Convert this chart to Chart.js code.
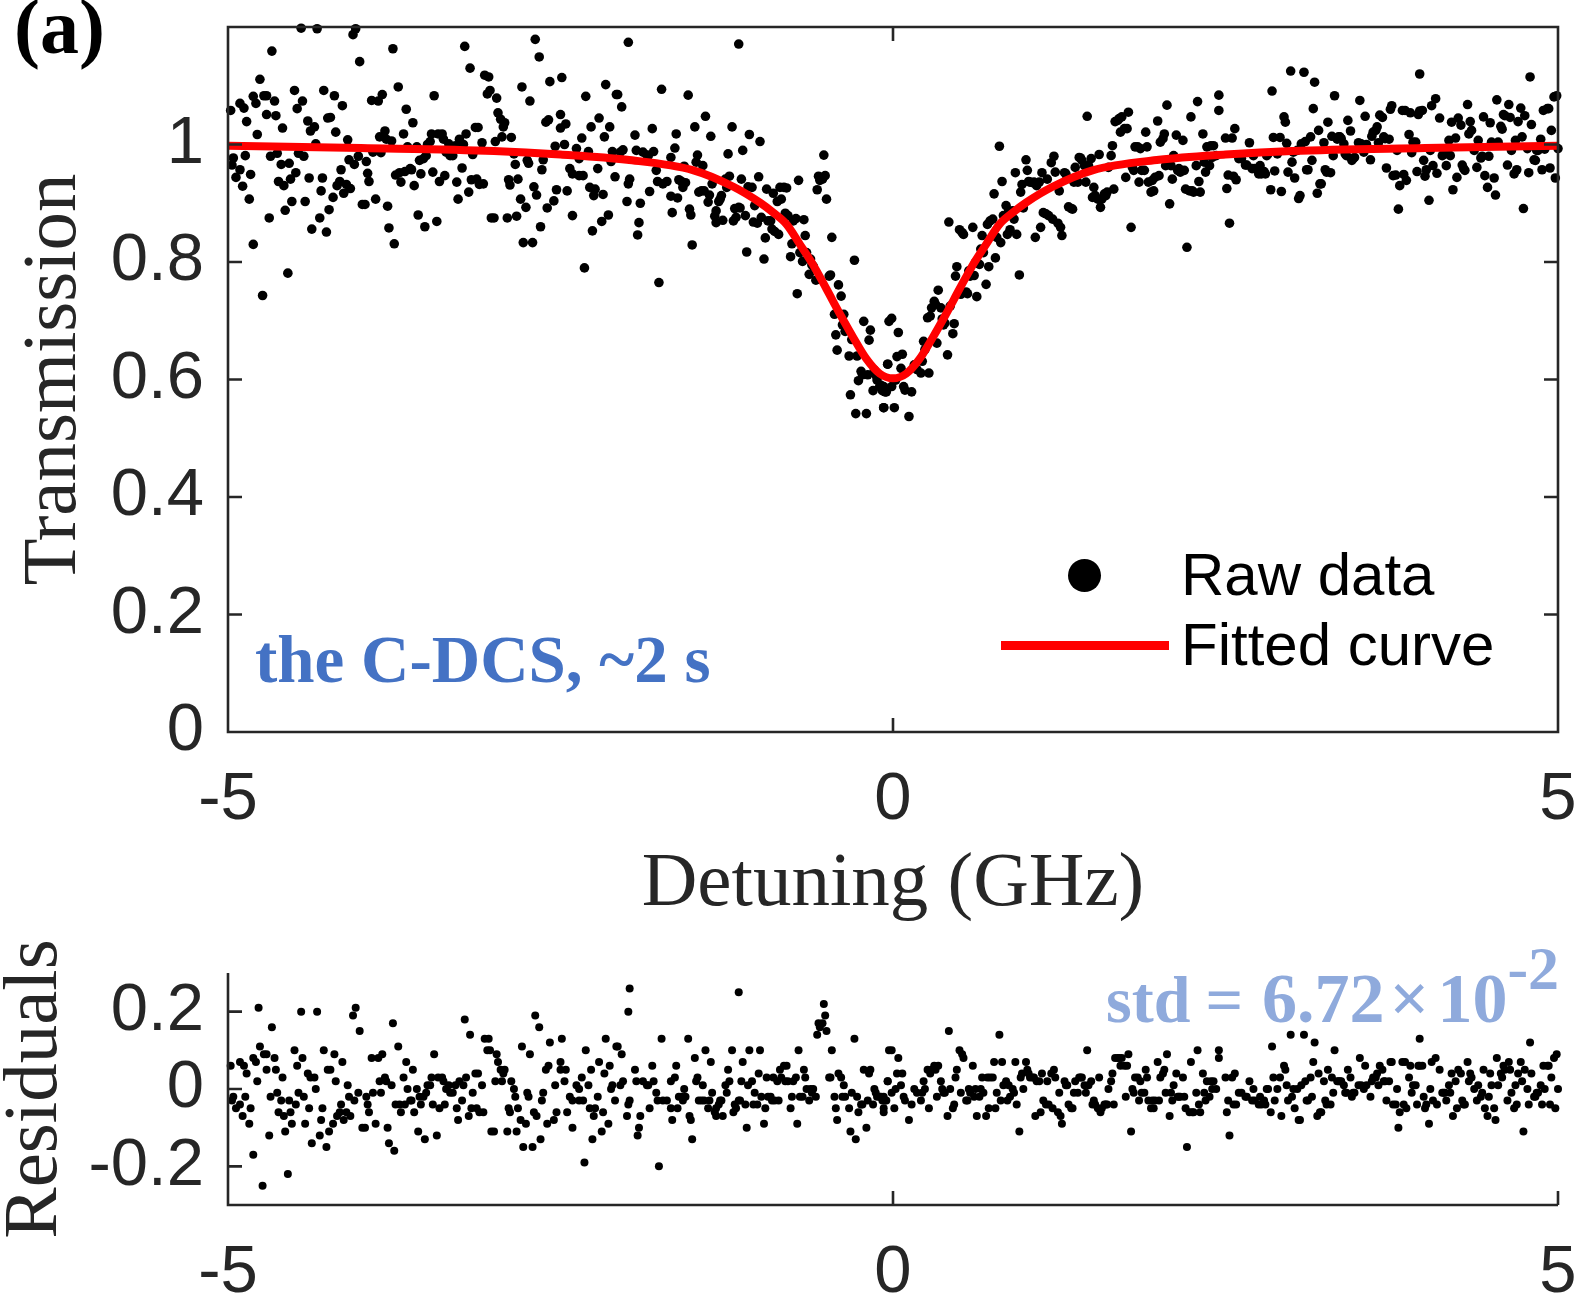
<!DOCTYPE html>
<html>
<head>
<meta charset="utf-8">
<title>Transmission dip and residuals</title>
<script src="https://cdn.jsdelivr.net/npm/chart.js@4.4.1/dist/chart.umd.min.js"></script>
<style>
  html, body { margin: 0; padding: 0; background: #fff; }
  #wrap { position: relative; width: 1578px; height: 1298px; overflow: hidden; background: #fff; }
  #wrap canvas { position: absolute; left: 0; top: 0; }
  .note { position: absolute; white-space: nowrap; line-height: 1; font-weight: bold;
          font-family: "Liberation Serif", "Times New Roman", serif; }
  .leg { position: absolute; white-space: nowrap; line-height: 1; font-size: 60px; color: #000;
         font-family: "Liberation Sans", Arial, sans-serif; }
</style>
</head>
<body>
<div id="wrap">
  <canvas id="transChart" width="1578" height="1298"></canvas>
  <canvas id="resChart" width="1578" height="1298"></canvas>

  <div class="note" style="left:14px;top:-12px;font-size:78px;color:#000">(a)</div>
  <div class="note" style="left:255px;top:626px;font-size:67px;color:#4472c4">the C-DCS, ~2 s</div>
  <div class="note" style="left:1106px;top:964px;font-size:66px;color:#8faadc">std<span style="margin-left:15px">=</span><span style="margin-left:19px;font-size:70px">6.72</span><span style="margin-left:5px;font-size:70px">×</span><span style="margin-left:8px;font-size:70px">10</span><span style="position:relative;top:-33px;font-size:62px">-2</span></div>

  <div style="position:absolute;left:1068px;top:559px;width:33px;height:33px;border-radius:50%;background:#000"></div>
  <div style="position:absolute;left:1001px;top:641px;width:168px;height:9px;background:#ff0000"></div>
  <div class="leg" style="left:1181px;top:545px">Raw data</div>
  <div class="leg" style="left:1181px;top:615px">Fitted curve</div>
</div>

<script>
// transmission scan in four stretches of detuning

// A: -5 .. -2.5 GHz
const detuningA = [
  -4.98,-4.96,-4.97,-4.94,-4.91,-4.91,-4.89,-4.88,-4.87,-4.86,
  -4.84,-4.83,-4.81,-4.81,-4.79,-4.78,-4.76,-4.74,-4.73,-4.71,
  -4.71,-4.69,-4.68,-4.67,-4.65,-4.64,-4.63,-4.62,-4.60,-4.59,
  -4.58,-4.57,-4.55,-4.54,-4.53,-4.52,-4.50,-4.49,-4.48,-4.47,
  -4.45,-4.44,-4.43,-4.42,-4.40,-4.39,-4.38,-4.37,-4.35,-4.34,
  -4.33,-4.31,-4.30,-4.29,-4.28,-4.26,-4.25,-4.24,-4.23,-4.21,
  -4.20,-4.19,-4.18,-4.16,-4.15,-4.14,-4.13,-4.11,-4.10,-4.09,
  -4.08,-4.06,-4.05,-4.04,-4.02,-4.01,-3.99,-3.97,-3.96,-3.95,
  -3.94,-3.92,-3.91,-3.89,-3.87,-3.86,-3.85,-3.84,-3.82,-3.81,
  -3.80,-3.79,-3.77,-3.76,-3.75,-3.74,-3.72,-3.71,-3.70,-3.68,
  -3.67,-3.66,-3.65,-3.63,-3.62,-3.61,-3.60,-3.58,-3.57,-3.56,
  -3.55,-3.53,-3.52,-3.51,-3.50,-3.48,-3.47,-3.46,-3.45,-3.43,
  -3.42,-3.41,-3.39,-3.38,-3.37,-3.36,-3.34,-3.33,-3.31,-3.29,
  -3.28,-3.27,-3.26,-3.24,-3.23,-3.22,-3.21,-3.19,-3.18,-3.17,
  -3.16,-3.14,-3.13,-3.12,-3.11,-3.09,-3.08,-3.07,-3.05,-3.04,
  -3.03,-3.02,-3.00,-2.99,-2.98,-2.97,-2.95,-2.94,-2.93,-2.92,
  -2.90,-2.89,-2.88,-2.87,-2.85,-2.84,-2.83,-2.82,-2.80,-2.79,
  -2.78,-2.76,-2.75,-2.74,-2.73,-2.71,-2.70,-2.69,-2.68,-2.66,
  -2.65,-2.64,-2.63,-2.61,-2.60,-2.59,-2.58,-2.55,-2.54,-2.53,
  -2.50,-2.50,-2.49,-4.77
];
const transmissionA = [
  1.058,0.977,0.965,0.944,1.070,0.957,0.929,1.062,0.981,1.039,
  0.907,0.949,1.082,0.830,1.070,1.017,1.111,0.743,1.083,1.083,
  1.051,0.875,0.980,1.159,1.074,1.049,0.985,0.937,0.966,1.028,
  0.930,0.888,0.781,0.968,0.941,0.903,1.092,0.952,1.061,0.985,
  1.198,1.074,0.980,0.903,1.040,0.943,1.023,0.856,1.030,1.001,
  1.197,0.875,0.921,0.943,1.092,0.851,1.045,0.889,1.046,0.910,
  1.083,1.021,0.930,0.937,0.957,1.066,0.917,0.932,1.008,0.974,
  0.925,1.187,0.966,1.197,0.980,1.141,0.898,0.898,0.971,0.951,
  0.937,1.075,0.987,0.907,1.074,1.013,0.986,1.085,1.023,1.009,
  0.895,0.858,1.006,1.163,0.831,0.948,1.098,0.952,0.936,1.018,
  0.954,1.060,0.996,0.959,0.957,1.037,0.930,0.996,0.880,0.973,
  0.950,0.976,0.860,0.981,1.000,1.005,1.018,0.953,1.083,0.869,
  1.018,0.937,1.018,1.009,0.947,0.987,1.001,0.981,0.981,0.998,
  0.936,0.907,1.009,0.960,1.000,1.167,1.018,0.919,1.130,0.940,
  0.983,1.029,0.941,1.029,0.932,1.003,0.933,1.118,1.086,1.115,
  1.092,0.875,0.875,1.005,1.079,1.054,1.043,1.013,1.030,1.037,
  0.875,0.940,0.931,1.012,0.984,0.966,0.878,0.941,0.907,1.098,
  0.833,0.893,0.973,0.968,1.074,0.833,0.928,1.179,0.914,1.149,
  0.860,0.957,0.974,1.038,0.892,1.042,1.107,0.904,0.997,0.923,
  1.051,1.028,1.114,1.21
];
const residualA = [
  0.06,-0.02,-0.03,-0.05,0.07,-0.04,-0.07,0.06,-0.02,0.04,
  -0.09,-0.05,0.08,-0.17,0.07,0.02,0.11,-0.25,0.09,0.09,
  0.05,-0.12,-0.02,0.16,0.08,0.05,-0.01,-0.06,-0.03,0.03,
  -0.07,-0.11,-0.22,-0.03,-0.06,-0.09,0.10,-0.04,0.06,-0.01,
  0.20,0.08,-0.02,-0.09,0.04,-0.05,0.03,-0.14,0.03,0.00,
  0.20,-0.12,-0.08,-0.05,0.10,-0.15,0.05,-0.11,0.05,-0.09,
  0.09,0.02,-0.07,-0.06,-0.04,0.07,-0.08,-0.06,0.01,-0.02,
  -0.07,0.19,-0.03,0.21,-0.01,0.15,-0.10,-0.10,-0.02,-0.04,
  -0.06,0.08,-0.01,-0.09,0.08,0.02,-0.01,0.09,0.03,0.02,
  -0.10,-0.14,0.01,0.17,-0.16,-0.04,0.11,-0.04,-0.06,0.03,
  -0.04,0.07,0.00,-0.03,-0.03,0.05,-0.06,0.00,-0.11,-0.02,
  -0.04,-0.02,-0.13,-0.01,0.01,0.01,0.03,-0.04,0.09,-0.12,
  0.03,-0.05,0.03,0.02,-0.04,0.00,0.01,-0.01,-0.01,0.01,
  -0.05,-0.08,0.02,-0.03,0.01,0.18,0.03,-0.07,0.14,-0.05,
  -0.01,0.04,-0.05,0.04,-0.06,0.01,-0.06,0.13,0.10,0.13,
  0.10,-0.11,-0.11,0.02,0.09,0.07,0.05,0.02,0.04,0.05,
  -0.11,-0.05,-0.06,0.02,0.00,-0.02,-0.11,-0.05,-0.08,0.11,
  -0.15,-0.09,-0.01,-0.02,0.09,-0.15,-0.06,0.19,-0.07,0.16,
  -0.13,-0.03,-0.01,0.05,-0.09,0.06,0.12,-0.08,0.01,-0.06,
  0.07,0.05,0.13,0.21
];

// B: -2.5 .. 0 GHz (falling edge of the dip)
const detuningB = [
  -2.46,-2.47,-2.43,-2.45,-2.41,-2.41,-2.38,-2.36,-2.34,-2.36,
  -2.33,-2.32,-2.31,-2.29,-2.28,-2.27,-2.26,-2.24,-2.25,-2.22,
  -2.21,-2.19,-2.18,-2.17,-2.16,-2.14,-2.13,-2.12,-2.11,-2.09,
  -2.08,-2.07,-2.05,-2.04,-2.03,-2.00,-1.99,-1.98,-1.94,-1.93,
  -1.92,-1.91,-1.90,-1.88,-1.85,-1.84,-1.83,-1.81,-1.80,-1.78,
  -1.77,-1.76,-1.74,-1.73,-1.70,-1.67,-1.67,-1.66,-1.64,-1.63,
  -1.62,-1.61,-1.59,-1.58,-1.57,-1.56,-1.54,-1.53,-1.52,-1.51,
  -1.49,-1.48,-1.47,-1.46,-1.44,-1.43,-1.42,-1.41,-1.39,-1.38,
  -1.37,-1.36,-1.34,-1.33,-1.33,-1.31,-1.30,-1.29,-1.28,-1.26,
  -1.25,-1.24,-1.23,-1.21,-1.20,-1.19,-1.18,-1.16,-1.15,-1.14,
  -1.13,-1.11,-1.10,-1.09,-1.08,-1.06,-1.05,-1.04,-1.02,-1.01,
  -1.00,-0.99,-0.97,-0.96,-0.95,-0.94,-0.92,-0.91,-0.90,-0.89,
  -0.87,-0.86,-0.85,-0.84,-0.82,-0.81,-0.80,-0.79,-0.77,-0.76,
  -0.75,-0.73,-0.72,-0.71,-0.70,-0.68,-0.67,-0.66,-0.65,-0.63,
  -0.62,-0.61,-0.60,-0.58,-0.57,-0.56,-0.55,-0.53,-0.52,-0.51,
  -0.50,-0.48,-0.47,-0.46,-0.44,-0.43,-0.42,-0.41,-0.39,-0.38,
  -0.37,-0.36,-0.33,-0.32,-0.31,-0.29,-0.28,-0.27,-0.26,-0.24,
  -0.23,-0.22,-0.20,-0.19,-0.18,-0.17,-0.15,-0.14,-0.13,-0.12,
  -0.10,-0.09,-0.08,-0.07,-0.05,-0.04,-0.03,-1.99,-1.98,-1.16
];
const transmissionB = [
  1.035,1.000,0.959,0.921,0.950,0.879,0.993,0.976,1.011,0.947,
  0.947,0.790,1.082,0.988,0.927,1.030,0.853,0.924,0.913,0.959,
  1.045,0.869,0.915,1.013,1.102,0.880,1.030,0.971,0.988,0.945,
  1.085,1.085,0.987,1.064,0.991,0.903,0.933,0.941,1.016,0.990,
  0.846,0.867,0.900,0.987,0.982,0.981,0.920,1.027,0.988,0.956,
  0.937,0.765,1.094,0.933,0.937,0.978,0.912,0.884,0.994,1.018,
  0.909,0.940,0.937,0.927,0.963,0.935,1.084,0.890,0.880,0.829,
  1.030,0.970,0.982,0.919,0.921,0.964,0.921,1.048,0.902,0.914,
  1.014,0.933,0.878,0.867,0.887,0.903,0.907,0.913,0.871,0.941,
  0.927,0.984,0.946,1.030,0.870,0.891,0.876,0.893,0.892,0.941,
  0.990,0.879,0.817,0.928,1.017,0.927,0.868,0.896,0.866,0.945,
  1.005,0.876,0.805,0.841,0.924,0.870,0.870,0.856,0.917,0.852,
  0.903,0.847,0.927,0.907,0.927,0.883,0.926,0.879,0.809,0.831,
  0.870,0.874,0.746,0.939,0.816,0.801,0.872,0.845,0.816,0.779,
  0.805,0.795,0.793,0.769,0.923,0.946,0.939,0.941,0.982,0.947,
  0.907,0.776,0.778,0.842,0.711,0.676,0.650,0.761,0.742,0.693,
  0.711,0.682,0.640,0.574,0.668,0.803,0.542,0.640,0.598,0.614,
  0.608,0.699,0.542,0.608,0.667,0.684,0.581,0.616,0.608,0.599,
  0.588,0.590,0.581,0.552,0.579,0.626,0.699,1.174,1.23,1.171
];
const residualB = [
  0.05,0.02,-0.02,-0.06,-0.03,-0.10,0.01,0.00,0.03,-0.03,
  -0.03,-0.19,0.10,0.01,-0.05,0.05,-0.13,-0.05,-0.07,-0.02,
  0.07,-0.11,-0.06,0.04,0.13,-0.09,0.06,0.00,0.01,-0.03,
  0.11,0.11,0.01,0.09,0.02,-0.07,-0.04,-0.03,0.05,0.02,
  -0.12,-0.10,-0.07,0.02,0.01,0.01,-0.05,0.06,0.02,-0.01,
  -0.03,-0.20,0.13,-0.03,-0.03,0.02,-0.05,-0.08,0.03,0.06,
  -0.05,-0.02,-0.02,-0.03,0.00,-0.02,0.13,-0.07,-0.08,-0.13,
  0.08,0.02,0.03,-0.03,-0.03,0.01,-0.03,0.10,-0.05,-0.03,
  0.07,-0.01,-0.06,-0.07,-0.05,-0.04,-0.03,-0.03,-0.07,0.01,
  -0.01,0.05,0.02,0.10,-0.06,-0.04,-0.05,-0.03,-0.03,0.02,
  0.07,-0.04,-0.10,0.01,0.10,0.02,-0.04,-0.01,-0.04,0.04,
  0.10,-0.02,-0.09,-0.05,0.03,-0.02,-0.02,-0.03,0.03,-0.03,
  0.02,-0.03,0.05,0.03,0.06,0.02,0.06,0.02,-0.05,-0.02,
  0.02,0.03,-0.09,0.10,-0.02,-0.02,0.05,0.03,0.00,-0.03,
  0.00,-0.01,0.00,-0.02,0.14,0.17,0.16,0.17,0.22,0.19,
  0.15,0.03,0.03,0.10,-0.02,-0.05,-0.08,0.04,0.03,-0.02,
  0.01,-0.02,-0.05,-0.11,-0.01,0.13,-0.13,-0.02,-0.06,-0.04,
  -0.04,0.05,-0.10,-0.03,0.04,0.05,-0.04,0.00,-0.01,-0.02,
  -0.02,-0.02,-0.03,-0.06,-0.03,0.02,0.10,0.20,0.26,0.25
];

// C: 0 .. 2.5 GHz (rising edge)
const detuningC = [
  -0.07,-0.07,-0.06,-0.04,-0.01,-0.01,0.01,0.02,0.03,0.04,
  0.06,0.07,0.08,0.09,0.12,0.14,0.16,0.18,0.21,0.22,
  0.23,0.24,0.26,0.27,0.28,0.29,0.31,0.32,0.33,0.34,
  0.36,0.37,0.38,0.39,0.41,0.42,0.43,0.45,0.46,0.47,
  0.48,0.50,0.51,0.52,0.53,0.55,0.56,0.57,0.58,0.60,
  0.61,0.62,0.63,0.65,0.66,0.67,0.68,0.70,0.71,0.72,
  0.73,0.75,0.76,0.77,0.78,0.80,0.81,0.82,0.83,0.85,
  0.86,0.87,0.88,0.90,0.91,0.92,0.93,0.95,0.96,0.97,
  0.98,1.00,1.01,1.02,1.03,1.05,1.06,1.07,1.08,1.10,
  1.11,1.12,1.13,1.15,1.16,1.17,1.19,1.20,1.21,1.22,
  1.24,1.25,1.26,1.27,1.29,1.30,1.31,1.32,1.34,1.35,
  1.36,1.37,1.39,1.40,1.41,1.42,1.44,1.45,1.46,1.47,
  1.49,1.50,1.51,1.52,1.54,1.55,1.56,1.57,1.59,1.60,
  1.61,1.62,1.64,1.65,1.66,1.67,1.69,1.70,1.71,1.72,
  1.74,1.75,1.76,1.77,1.79,1.80,1.81,1.82,1.84,1.85,
  1.86,1.87,1.89,1.90,1.91,1.92,1.94,1.95,1.96,1.97,
  1.99,2.00,2.01,2.03,2.04,2.05,2.06,2.08,2.09,2.10,
  2.11,2.13,2.14,2.15,2.16,2.18,2.19,2.20,2.21,2.23,
  2.24,2.25,2.26,2.28,2.29,2.30,2.31,2.33,2.34,2.35,
  2.36,2.38,2.39,2.40,2.41,2.43,2.45,2.45
];
const transmissionC = [
  0.588,0.552,0.579,0.626,0.704,0.588,0.552,0.599,0.639,0.680,
  0.619,0.643,0.588,0.582,0.537,0.579,0.625,0.617,0.611,0.631,
  0.665,0.651,0.705,0.611,0.708,0.722,0.733,0.728,0.662,0.752,
  0.722,0.703,0.693,0.696,0.642,0.868,0.725,0.678,0.695,0.776,
  0.792,0.855,0.745,0.850,0.847,0.749,0.746,0.785,0.776,0.859,
  0.777,0.799,0.741,0.796,0.822,0.845,0.816,0.762,0.864,0.792,
  0.870,0.873,0.916,0.807,0.842,0.997,0.833,0.937,0.879,0.896,
  0.847,0.887,0.855,0.887,0.873,0.952,0.847,0.778,0.919,0.932,
  0.892,0.974,0.956,0.937,0.936,0.935,0.936,0.842,0.930,0.936,
  0.859,0.952,0.884,0.882,0.941,0.879,0.969,0.873,0.980,0.953,
  0.866,0.921,0.859,0.845,0.952,0.950,0.944,0.894,0.891,0.890,
  0.936,0.961,0.936,0.978,0.977,0.973,0.964,0.936,1.048,0.964,
  0.976,0.910,0.927,0.913,0.907,0.983,0.893,0.907,0.916,0.913,
  0.919,0.961,0.981,0.998,0.924,1.039,1.041,1.044,1.021,1.047,
  1.027,0.944,1.027,1.055,0.859,0.961,0.956,0.996,0.996,0.936,
  0.993,0.956,0.956,1.021,0.996,0.936,0.919,0.939,0.921,0.944,
  1.040,0.947,1.004,1.010,1.018,0.964,1.067,0.899,0.964,0.941,
  0.981,1.016,0.956,0.959,0.953,1.007,0.956,0.924,0.825,0.921,
  1.047,0.921,0.919,0.964,1.073,0.937,0.919,1.018,0.970,0.953,
  0.996,0.964,0.998,0.978,0.998,0.981,1.058,1.084
];
const residualC = [
  -0.02,-0.05,-0.03,0.02,0.10,-0.01,-0.05,0.00,0.04,0.08,
  0.01,0.04,-0.02,-0.03,-0.08,-0.04,0.00,-0.01,-0.03,-0.01,
  0.02,0.00,0.05,-0.05,0.04,0.05,0.06,0.05,-0.02,0.06,
  0.02,0.00,-0.01,-0.01,-0.07,0.15,0.00,-0.05,-0.04,0.03,
  0.05,0.10,-0.01,0.09,0.08,-0.03,-0.03,0.00,-0.01,0.06,
  -0.02,0.00,-0.07,-0.02,0.00,0.03,-0.01,-0.07,0.03,-0.05,
  0.03,0.03,0.07,-0.05,-0.01,0.14,-0.03,0.07,0.01,0.02,
  -0.03,0.01,-0.02,0.00,-0.01,0.07,-0.04,-0.11,0.03,0.04,
  0.00,0.07,0.05,0.04,0.03,0.03,0.03,-0.07,0.02,0.02,
  -0.06,0.04,-0.03,-0.04,0.02,-0.04,0.04,-0.05,0.05,0.03,
  -0.06,-0.01,-0.07,-0.09,0.02,0.01,0.01,-0.04,-0.05,-0.05,
  -0.01,0.02,-0.01,0.03,0.03,0.03,0.01,-0.01,0.10,0.01,
  0.02,-0.04,-0.03,-0.04,-0.05,0.03,-0.06,-0.05,-0.04,-0.04,
  -0.04,0.00,0.02,0.04,-0.04,0.08,0.08,0.08,0.06,0.08,
  0.06,-0.02,0.06,0.09,-0.11,0.00,-0.01,0.03,0.03,-0.03,
  0.02,-0.01,-0.01,0.05,0.03,-0.03,-0.05,-0.03,-0.05,-0.03,
  0.07,-0.03,0.03,0.04,0.05,-0.01,0.09,-0.07,-0.01,-0.03,
  0.01,0.04,-0.02,-0.02,-0.02,0.03,-0.02,-0.05,-0.15,-0.06,
  0.07,-0.06,-0.06,-0.01,0.10,-0.04,-0.06,0.04,-0.01,-0.03,
  0.02,-0.02,0.02,0.00,0.02,0.00,0.08,0.10
];

// D: 2.5 .. 5 GHz
const detuningD = [
  2.50,2.51,2.52,2.53,2.55,2.56,2.57,2.58,2.60,2.62,
  2.65,2.66,2.68,2.70,2.71,2.72,2.75,2.76,2.77,2.79,
  2.80,2.81,2.82,2.84,2.85,2.86,2.87,2.89,2.91,2.92,
  2.94,2.95,2.96,2.97,2.99,3.00,3.01,3.02,3.04,3.05,
  3.06,3.07,3.09,3.10,3.11,3.12,3.14,3.15,3.16,3.17,
  3.19,3.20,3.21,3.22,3.24,3.25,3.26,3.27,3.29,3.30,
  3.31,3.32,3.34,3.35,3.36,3.37,3.39,3.40,3.41,3.42,
  3.44,3.45,3.46,3.47,3.50,3.51,3.52,3.54,3.55,3.56,
  3.59,3.60,3.61,3.63,3.64,3.65,3.66,3.68,3.69,3.70,
  3.71,3.73,3.74,3.75,3.76,3.78,3.79,3.80,3.81,3.83,
  3.84,3.85,3.86,3.88,3.89,3.90,3.91,3.93,3.94,3.95,
  3.96,3.98,3.99,4.00,4.01,4.03,4.04,4.05,4.06,4.08,
  4.09,4.11,4.13,4.14,4.15,4.16,4.18,4.19,4.20,4.21,
  4.23,4.24,4.25,4.27,4.28,4.29,4.30,4.32,4.33,4.34,
  4.35,4.37,4.39,4.40,4.42,4.43,4.44,4.45,4.47,4.48,
  4.49,4.50,4.52,4.53,4.54,4.55,4.57,4.58,4.59,4.60,
  4.62,4.63,4.64,4.65,4.67,4.68,4.69,4.70,4.72,4.73,
  4.74,4.75,4.77,4.78,4.79,4.80,4.82,4.83,4.84,4.85,
  4.87,4.88,4.89,4.90,4.92,4.93,4.94,4.95,4.97,4.98,
  4.99,5.00,3.96
];
const transmissionD = [
  1.011,0.925,0.948,0.866,1.011,0.946,1.027,0.940,0.976,0.976,
  0.965,0.965,1.003,0.959,0.981,0.959,0.950,0.964,0.950,0.954,
  0.950,0.981,0.984,0.923,1.091,1.012,0.955,0.984,1.012,0.920,
  1.047,1.038,1.002,0.953,1.125,0.970,0.987,0.943,0.990,0.908,
  0.913,1.001,1.123,1.005,0.957,0.957,1.013,0.973,1.061,1.106,
  0.917,1.024,0.933,0.933,1.003,0.957,0.953,1.038,0.952,1.014,
  0.981,1.083,1.009,1.013,1.013,1.010,1.001,0.984,0.981,1.041,
  1.023,0.973,0.976,0.978,1.003,1.075,1.001,0.987,1.048,1.000,
  0.974,1.014,1.021,1.024,1.030,1.003,1.050,1.046,1.013,1.010,
  0.960,1.009,1.060,1.066,0.947,0.948,0.990,0.890,0.930,1.058,
  0.949,1.058,0.939,1.017,1.054,0.986,1.004,1.004,0.954,1.051,
  1.057,1.058,0.973,0.946,0.957,0.905,0.990,1.066,0.964,1.078,
  0.951,1.045,0.981,0.984,0.984,0.964,1.007,0.981,1.038,0.923,
  1.011,0.944,1.045,1.033,0.965,0.959,0.956,1.068,1.018,1.039,
  1.024,0.990,0.961,1.007,0.977,0.980,1.047,0.947,0.927,0.980,
  1.037,1.004,0.943,0.914,1.076,1.004,1.031,1.026,1.051,1.049,
  0.965,1.068,1.046,0.990,0.950,1.007,0.957,1.039,1.062,1.013,
  0.891,1.049,0.993,0.952,1.115,1.034,0.974,0.973,0.990,0.990,
  1.009,0.957,1.058,0.992,1.061,1.061,0.960,1.024,1.081,0.943,
  1.083,0.993,1.120
];
const residualD = [
  0.03,-0.06,-0.03,-0.12,0.03,-0.04,0.04,-0.04,-0.01,-0.01,
  -0.02,-0.02,0.02,-0.03,0.00,-0.03,-0.04,-0.02,-0.04,-0.03,
  -0.04,0.00,0.00,-0.06,0.11,0.03,-0.03,0.00,0.03,-0.07,
  0.06,0.05,0.01,-0.03,0.14,-0.02,0.00,-0.05,0.00,-0.08,
  -0.08,0.01,0.14,0.02,-0.03,-0.03,0.03,-0.02,0.07,0.12,
  -0.07,0.04,-0.06,-0.06,0.02,-0.03,-0.04,0.05,-0.04,0.03,
  -0.01,0.10,0.02,0.02,0.02,0.02,0.01,-0.01,-0.01,0.05,
  0.03,-0.02,-0.01,-0.01,0.01,0.08,0.01,0.00,0.06,0.01,
  -0.02,0.02,0.03,0.03,0.04,0.01,0.06,0.05,0.02,0.02,
  -0.03,0.02,0.07,0.07,-0.04,-0.04,0.00,-0.10,-0.06,0.07,
  -0.04,0.07,-0.05,0.03,0.06,-0.01,0.01,0.01,-0.04,0.06,
  0.06,0.06,-0.02,-0.05,-0.04,-0.09,0.00,0.07,-0.03,0.08,
  -0.04,0.05,-0.01,-0.01,-0.01,-0.03,0.01,-0.01,0.04,-0.07,
  0.02,-0.05,0.05,0.04,-0.03,-0.04,-0.04,0.07,0.02,0.04,
  0.03,0.00,-0.03,0.01,-0.02,-0.01,0.05,-0.05,-0.07,-0.02,
  0.04,0.01,-0.05,-0.08,0.08,0.01,0.04,0.03,0.06,0.05,
  -0.03,0.07,0.05,-0.01,-0.05,0.01,-0.04,0.04,0.07,0.02,
  -0.11,0.05,0.00,-0.04,0.12,0.04,-0.02,-0.02,-0.01,-0.01,
  0.01,-0.04,0.06,0.00,0.06,0.06,-0.04,0.03,0.08,-0.05,
  0.09,0.00,0.13
];

// fitted curve, read at these detunings
const fitDetuning = [-5,-4,-3,-2.5,-2,-1.5,-1.2,-1,-0.9,-0.8,-0.7,-0.6,-0.5,-0.4,-0.3,-0.2,-0.1,0,
                     0.1,0.2,0.3,0.4,0.5,0.6,0.7,0.8,0.9,1,1.2,1.5,2,2.5,3,4,5];
const fitTransmission = [0.998,0.994,0.989,0.983,0.974,0.956,0.928,0.901,0.884,0.864,0.830,0.795,0.754,0.712,0.672,0.635,0.610,0.602,
                         0.610,0.635,0.672,0.712,0.754,0.795,0.830,0.864,0.884,0.901,0.928,0.956,0.974,0.983,0.989,0.994,0.998];

const xTicks = [-5, 0, 5];
const xTickLabels = ['-5', '0', '5'];
const transTicks = [0, 0.2, 0.4, 0.6, 0.8, 1];
const transTickLabels = ['0', '0.2', '0.4', '0.6', '0.8', '1'];
const resTicks = [-0.2, 0, 0.2];
const resTickLabels = ['-0.2', '0', '0.2'];

const FRAME = '#262626';
const TICK_FONT = { family: '"Liberation Sans", Arial, sans-serif', size: 67 };
const LABEL_FONT = { family: '"Liberation Serif", "Times New Roman", serif', size: 77 };

const detuning = [...detuningA, ...detuningB, ...detuningC, ...detuningD];
const transmission = [...transmissionA, ...transmissionB, ...transmissionC, ...transmissionD];
const residual = [...residualA, ...residualB, ...residualC, ...residualD];

function fixedTicks(values) {
  return scale => { scale.ticks = values.map(v => ({ value: v })); };
}
function tickText(values, labels) {
  return v => {
    const i = values.findIndex(t => Math.abs(t - v) < 1e-9);
    return i >= 0 ? labels[i] : '';
  };
}
// pin the axis box so the plot area lands where the figure has it
function fixSize(prop, size) {
  return scale => {
    scale[prop] = size;
    scale.paddingLeft = scale.paddingRight = scale.paddingTop = scale.paddingBottom = 0;
  };
}

// MATLAB-like axes: frame plus inward tick marks
const axesFrame = {
  id: 'axesFrame',
  afterDraw(chart, args, opts) {
    const { ctx, chartArea: a } = chart;
    const sx = chart.scales.x, sy = chart.scales.y;
    const L = 14;
    ctx.save();
    ctx.strokeStyle = FRAME;
    ctx.lineWidth = 2.6;
    ctx.beginPath();
    if (opts.box) {
      ctx.rect(a.left, a.top, a.right - a.left, a.bottom - a.top);
    } else {
      ctx.moveTo(a.left, a.top);
      ctx.lineTo(a.left, a.bottom);
      ctx.lineTo(a.right, a.bottom);
    }
    sy.ticks.forEach(t => {
      const p = sy.getPixelForValue(t.value);
      ctx.moveTo(a.left, p); ctx.lineTo(a.left + L, p);
      if (opts.box) { ctx.moveTo(a.right, p); ctx.lineTo(a.right - L, p); }
    });
    sx.ticks.forEach(t => {
      const p = sx.getPixelForValue(t.value);
      ctx.moveTo(p, a.bottom); ctx.lineTo(p, a.bottom - L);
      if (opts.box) { ctx.moveTo(p, a.top); ctx.lineTo(p, a.top + L); }
    });
    ctx.stroke();
    ctx.restore();
  }
};

function xScale(boxHeight, tickPad, title) {
  return {
    type: 'linear', min: -5, max: 5,
    grid: { display: false, drawTicks: false }, border: { display: false },
    afterBuildTicks: fixedTicks(xTicks),
    afterFit: fixSize('height', boxHeight),
    ticks: { font: TICK_FONT, color: FRAME, padding: tickPad, maxRotation: 0, autoSkip: false,
             callback: tickText(xTicks, xTickLabels) },
    title: title
  };
}

const commonOptions = {
  responsive: false, maintainAspectRatio: false, animation: false, events: [],
  plugins: { legend: { display: false }, tooltip: { enabled: false } }
};

// upper panel: transmission
const yMaxTrans = 1.2;
const rawPoints = detuning.map((x, i) => ({ x, y: transmission[i] })).filter(p => p.y <= yMaxTrans);
const fitPoints = fitDetuning.map((x, i) => ({ x, y: fitTransmission[i] }));

new Chart(document.getElementById('transChart'), {
  type: 'scatter',
  data: {
    datasets: [
      { label: 'Fitted curve', data: fitPoints, showLine: true, borderColor: '#ff0000', borderWidth: 8,
        pointRadius: 0, cubicInterpolationMode: 'monotone', clip: 0 },
      { label: 'Raw data', data: rawPoints, showLine: false, pointRadius: 4.8,
        pointBackgroundColor: '#000', pointBorderColor: '#000', pointBorderWidth: 0, clip: 8 }
    ]
  },
  options: {
    ...commonOptions,
    layout: { autoPadding: false, padding: { top: 27, right: 20, bottom: 0, left: 0 } },
    plugins: { ...commonOptions.plugins, axesFrame: { box: true } },
    scales: {
      x: xScale(566, 28, { display: true, text: 'Detuning (GHz)', font: LABEL_FONT, color: FRAME,
                          padding: { top: 0, bottom: 367 } }),
      y: {
        type: 'linear', min: 0, max: yMaxTrans,
        grid: { display: false, drawTicks: false }, border: { display: false },
        afterBuildTicks: fixedTicks(transTicks),
        afterFit: fixSize('width', 228),
        ticks: { font: TICK_FONT, color: FRAME, padding: 24, callback: tickText(transTicks, transTickLabels) },
        title: { display: true, text: 'Transmission', font: LABEL_FONT, color: FRAME, padding: { top: 9, bottom: 0 } }
      }
    }
  },
  plugins: [axesFrame]
});

// lower panel: residuals
const resPoints = detuning.map((x, i) => ({ x, y: residual[i] }));

new Chart(document.getElementById('resChart'), {
  type: 'scatter',
  data: {
    datasets: [
      { label: 'Residuals', data: resPoints, showLine: false, pointRadius: 4.0,
        pointBackgroundColor: '#000', pointBorderColor: '#000', pointBorderWidth: 0, clip: 8 }
    ]
  },
  options: {
    ...commonOptions,
    layout: { autoPadding: false, padding: { top: 973, right: 20, bottom: 0, left: 0 } },
    plugins: { ...commonOptions.plugins, axesFrame: { box: false } },
    scales: {
      x: xScale(93, 28, { display: false }),
      y: {
        type: 'linear', min: -0.3, max: 0.3,
        grid: { display: false, drawTicks: false }, border: { display: false },
        afterBuildTicks: fixedTicks(resTicks),
        afterFit: fixSize('width', 228),
        ticks: { font: TICK_FONT, color: FRAME, padding: 24, callback: tickText(resTicks, resTickLabels) },
        title: { display: true, text: 'Residuals', font: { ...LABEL_FONT, lineHeight: 1 }, color: FRAME,
                 padding: { top: -3, bottom: 0 } }
      }
    }
  },
  plugins: [axesFrame]
});
</script>
</body>
</html>
